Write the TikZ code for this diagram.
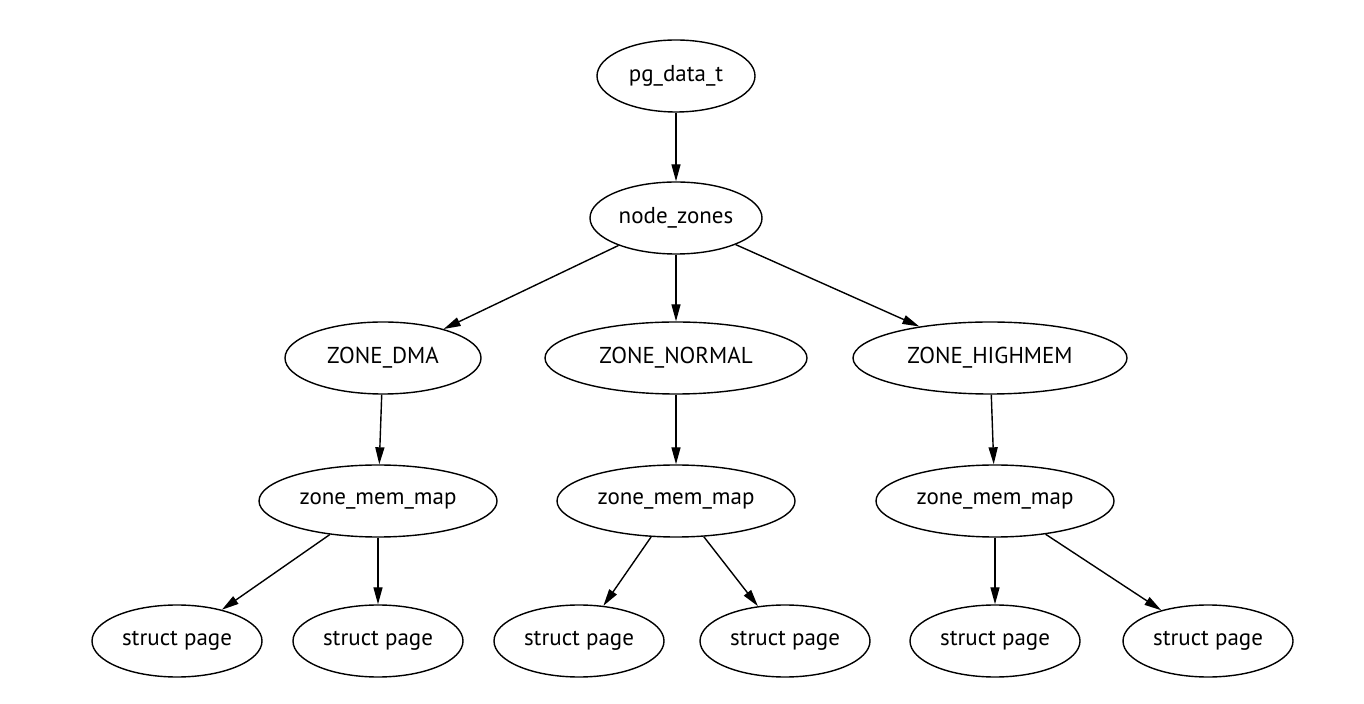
\documentclass[tikz,border=0pt]{standalone}
\usepackage{fontspec}
\setmainfont{PT Sans}
\usetikzlibrary{shapes.geometric,arrows.meta}

\tikzset{
  mapnode/.style={minimum width=119pt},
  pagenode/.style={minimum width=85pt}
}

\begin{document}
\begin{tikzpicture}[x=0.5pt,y=-0.5pt,->,>={Triangle[length=8.5pt,width=4.5pt]},line width=0.7pt,every node/.style={ellipse,draw,minimum height=36pt,inner xsep=1pt,font=\fontsize{11.5}{13}\selectfont}]
\useasboundingbox (0,0) rectangle (1364,704);
\node[minimum width=79pt] (pgdata) at (676,76) {pg\_data\_t};
\node[minimum width=86pt] (zones) at (676,218) {node\_zones};
\node[minimum width=98pt] (dma) at (383,358) {ZONE\_DMA};
\node[minimum width=131pt] (normal) at (676,358) {ZONE\_NORMAL};
\node[minimum width=137pt] (highmem) at (990,358) {ZONE\_HIGHMEM};
\node[mapnode] (mapdma) at (378,501) {zone\_mem\_map};
\node[mapnode] (mapnormal) at (676,501) {zone\_mem\_map};
\node[mapnode] (maphigh) at (995,501) {zone\_mem\_map};
\node[pagenode] (page1) at (177,641) {struct page};
\node[pagenode] (page2) at (378,641) {struct page};
\node[pagenode] (page3) at (579,641) {struct page};
\node[pagenode] (page4) at (785,641) {struct page};
\node[pagenode] (page5) at (995,641) {struct page};
\node[pagenode] (page6) at (1208,641) {struct page};
\path (pgdata) edge (zones);
\path (zones) edge (dma);
\path (zones) edge (normal);
\path (zones) edge (highmem);
\path (dma) edge (mapdma);
\path (normal) edge (mapnormal);
\path (highmem) edge (maphigh);
\path (mapdma) edge (page1);
\path (mapdma) edge (page2);
\path (mapnormal) edge (page3);
\path (mapnormal) edge (page4);
\path (maphigh) edge (page5);
\path (maphigh) edge (page6);
\end{tikzpicture}
\end{document}
